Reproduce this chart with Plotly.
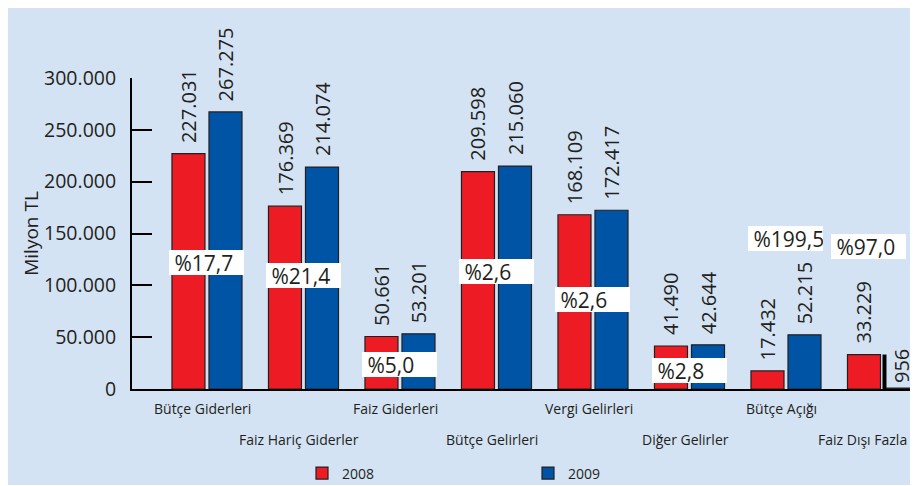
import plotly.graph_objects as go

categories = ["Bütçe Giderleri", "Faiz Hariç Giderler", "Faiz Giderleri", "Bütçe Gelirleri",
              "Vergi Gelirleri", "Diğer Gelirler", "Bütçe Açığı", "Faiz Dışı Fazla"]
values_2008 = [227031, 176369, 50661, 209598, 168109, 41490, 17432, 33229]
values_2009 = [267275, 214074, 53201, 215060, 172417, 42644, 52215, 956]
labels_2008 = ["227.031", "176.369", "50.661", "209.598", "168.109", "41.490", "17.432", "33.229"]
labels_2009 = ["267.275", "214.074", "53.201", "215.060", "172.417", "42.644", "52.215", "956"]
change_labels = ["%17,7", "%21,4", "%5,0", "%2,6", "%2,6", "%2,8", "%199,5", "%97,0"]
series_names = ["2008", "2009"]
y_ticks = [0, 50000, 100000, 150000, 200000, 250000, 300000]

# label box heights (positions, in axis units) for the change boxes
change_box_y = [122500, 109500, 23200, 113800, 86300, 17800, 145200, 137000]

RED = "#ed1c24"
BLUE = "#0054a6"
INK = "#231f20"
BG = "#d4e3f3"
FONT = "Open Sans, Noto Sans, sans-serif"

# page body adds an 8px margin; the figure is sized to fit inside the window
W, H = 910, 478
L, T, PW, PH = 124, 70, 786, 311
B = H - T - PH

fig = go.Figure()
fig.add_trace(go.Bar(x=categories, y=values_2008, name=series_names[0],
                     marker=dict(color=RED, line=dict(color=INK, width=1.2))))
fig.add_trace(go.Bar(x=categories, y=values_2009, name=series_names[1],
                     marker=dict(color=BLUE, line=dict(color=INK, width=1.2))))

ann = []
# value labels (rotated) above bars
for i, c in enumerate(categories):
    for vals, labs, dx in ((values_2008, labels_2008, -18.5), (values_2009, labels_2009, 18.5)):
        small = vals[i] < 5000
        ann.append(dict(x=c, y=vals[i], xref="x", yref="y", text=labs[i], showarrow=False,
                        textangle=-90, xanchor="center", yanchor="bottom",
                        xshift=dx, yshift=3 if small else 9,
                        font=dict(family=FONT, size=20, color=INK)))
# percentage change boxes
for i, c in enumerate(categories):
    ann.append(dict(x=c, y=change_box_y[i], xref="x", yref="y", text="&nbsp;" + change_labels[i],
                    showarrow=False, align="left", width=75, height=25, borderpad=0, borderwidth=0,
                    bgcolor="white", xanchor="center", yanchor="middle",
                    xshift=-14 if i == len(categories) - 1 else 0,
                    font=dict(family=FONT, size=21, color=INK)))
# category labels in two staggered rows
for i, c in enumerate(categories):
    ann.append(dict(x=c, y=0, xref="x", yref="paper", text=c, showarrow=False,
                    xanchor="center", yanchor="middle", yshift=-19 if i % 2 == 0 else -50,
                    xshift=-20 if i == len(categories) - 1 else -4,
                    font=dict(family=FONT, size=14, color=INK)))

shapes = [
    dict(type="rect", xref="paper", yref="paper", x0=-L / PW, x1=(907 - L) / PW,
         y0=-(B - 1) / PH, y1=(T + PH) / PH, fillcolor=BG, line=dict(width=0), layer="below"),
    dict(type="line", xref="x", yref="y", xsizemode="pixel", xanchor=categories[-1],
         x0=2, x1=2, y0=0, y1=values_2008[-1], line=dict(color="black", width=4)),
]

fig.update_layout(
    width=W, height=H,
    margin=dict(l=L, r=W - L - PW, t=T, b=B, autoexpand=False),
    paper_bgcolor="white", plot_bgcolor="rgba(0,0,0,0)",
    separators=",.",
    barmode="group", bargap=0.233, bargroupgap=0.108,
    font=dict(family=FONT, color=INK),
    xaxis=dict(range=[-0.777, 7.368], showticklabels=False, ticks="", showgrid=False,
               showline=True, linecolor="black", linewidth=2, zeroline=False, fixedrange=True),
    yaxis=dict(range=[0, 300000], tickvals=y_ticks, tickformat=",d", ticks="inside", ticklen=20,
               tickwidth=2, tickcolor="black", showline=True, linecolor="black", linewidth=2,
               showgrid=False, zeroline=False, ticklabelstandoff=10,
               tickfont=dict(family=FONT, size=19.5, color=INK),
               title=dict(text="Milyon TL", standoff=0, font=dict(family=FONT, size=19, color=INK))),
    showlegend=True,
    legend=dict(orientation="h", x=(294 - L) / PW, xanchor="left", y=-(465.5 - (T + PH)) / PH,
                yanchor="middle", entrywidth=181, entrywidthmode="pixels",
                bgcolor="rgba(0,0,0,0)", font=dict(family=FONT, size=14, color=INK)),
    annotations=ann, shapes=shapes,
)

fig.write_html("out.html")
